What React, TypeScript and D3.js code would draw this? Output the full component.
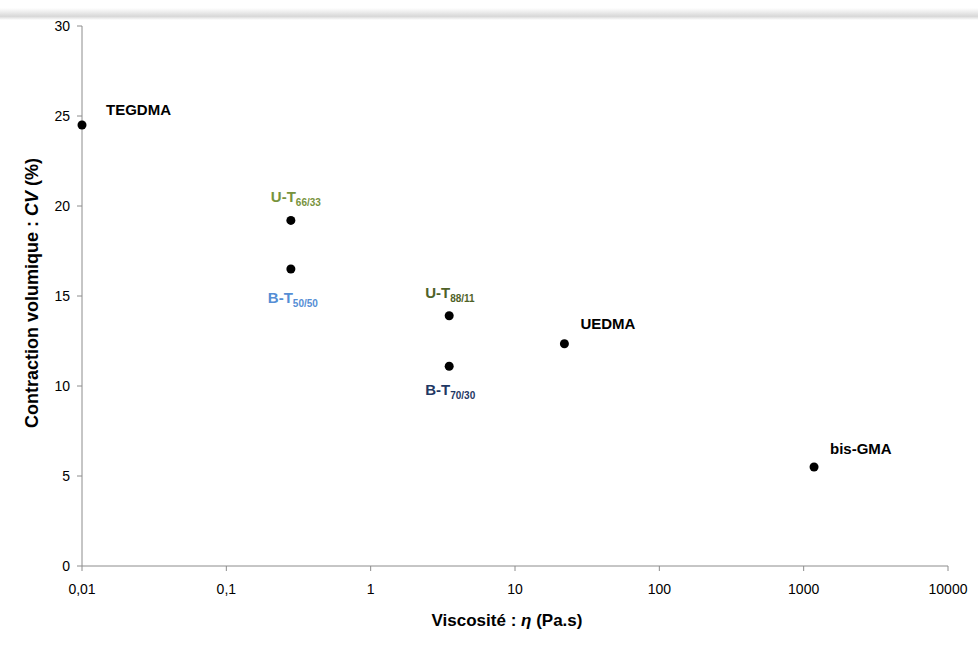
import React from "react";
import * as d3 from "d3";

const names = ["TEGDMA", "U-T", "B-T", "U-T", "B-T", "UEDMA", "bis-GMA"];
const subs = ["", "66/33", "50/50", "88/11", "70/30", "", ""];
const viscosity = [0.01, 0.28, 0.28, 3.5, 3.5, 22, 1180];
const contraction = [24.5, 19.2, 16.5, 13.9, 11.1, 12.35, 5.5];
const labelColors = ["#000000", "#77933C", "#558ED5", "#4F6228", "#1F3864", "#000000", "#000000"];
// label offsets: [dx, dy] relative to point
const labelPos: [number, number][] = [[24, -10], [-20, -18], [-23, 34], [-24, -18], [-24, 29], [16, -15], [16, -13]];
const xTicks = [0.01, 0.1, 1, 10, 100, 1000, 10000];
const xTickLabels = ["0,01", "0,1", "1", "10", "100", "1000", "10000"];
const yTicks = [0, 5, 10, 15, 20, 25, 30];

export default function App() {
  const W = 978, H = 646;
  const x = d3.scaleLog().domain([0.01, 10000]).range([82, 948]);
  const y = d3.scaleLinear().domain([0, 30]).range([566, 26]);
  const font = "'Liberation Sans', Arial, sans-serif";
  return (
    <svg width={W} height={H} style={{ position: "absolute", left: 0, top: 0, background: "#fff" }} fontFamily={font}>
      <defs>
        <linearGradient id="sh" x1="0" y1="0" x2="0" y2="1">
          <stop offset="0" stopColor="#fff" />
          <stop offset="0.7" stopColor="#d8d8d8" />
          <stop offset="1" stopColor="#fff" />
        </linearGradient>
      </defs>
      <rect x={0} y={8} width={W} height={12} fill="url(#sh)" />
      {/* axes */}
      <line x1={82} x2={82} y1={y(30)} y2={y(0)} stroke="#8c8c8c" strokeWidth={1} />
      <line x1={82} x2={948} y1={y(0)} y2={y(0)} stroke="#8c8c8c" strokeWidth={1} />
      {yTicks.map((t) => (
        <g key={"y" + t}>
          <line x1={77} x2={82} y1={y(t)} y2={y(t)} stroke="#8c8c8c" />
          <text x={70} y={y(t) + 5} textAnchor="end" fontSize={14} fill="#000">{t}</text>
        </g>
      ))}
      {xTicks.map((t, i) => (
        <g key={"x" + t}>
          <line x1={x(t)} x2={x(t)} y1={y(0)} y2={y(0) + 5} stroke="#8c8c8c" />
          <text x={x(t)} y={y(0) + 28} textAnchor="middle" fontSize={14} fill="#000">{xTickLabels[i]}</text>
        </g>
      ))}
      {/* axis titles */}
      <text x={507} y={626} textAnchor="middle" fontSize={17} fontWeight="bold" fill="#000">
        Viscosité : <tspan fontStyle="italic">η</tspan> (Pa.s)
      </text>
      <text transform="translate(38,293) rotate(-90)" textAnchor="middle" fontSize={18} fontWeight="bold" fill="#000">
        Contraction volumique : <tspan fontStyle="italic">CV</tspan> (%)
      </text>
      {/* points */}
      {viscosity.map((v, i) => (
        <g key={"p" + i}>
          <circle cx={x(v)} cy={y(contraction[i])} r={4.5} fill="#000" />
          <text x={x(v) + labelPos[i][0]} y={y(contraction[i]) + labelPos[i][1]} fontSize={15} fontWeight="bold" fill={labelColors[i]}>
            {names[i]}
            {subs[i] ? <tspan fontSize={10} dy={4}>{subs[i]}</tspan> : null}
          </text>
        </g>
      ))}
    </svg>
  );
}
